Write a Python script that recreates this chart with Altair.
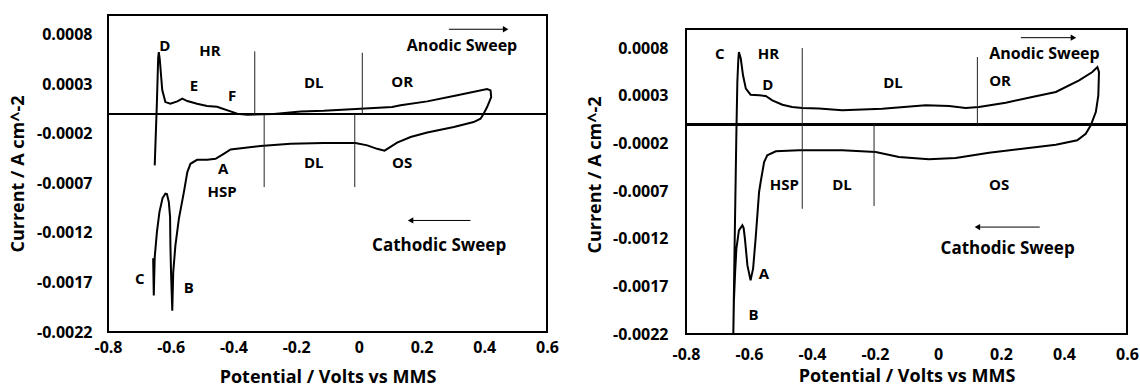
import altair as alt
import pandas as pd

FONT = "Open Sans"

X_TICKS = [-0.8, -0.6, -0.4, -0.2, 0, 0.2, 0.4, 0.6]
Y_TICKS = [-0.0022, -0.0017, -0.0012, -0.0007, -0.0002, 0.0003, 0.0008]
FRAME_V = [-0.8, 0.6]
FRAME_I = [-0.0022, 0.001]

# ---- left voltammogram (potential in V vs MMS, current in A cm^-2) ----
left_v = [-0.651, -0.644, -0.640, -0.638, -0.635, -0.627, -0.617, -0.601, -0.579, -0.563,
          -0.547, -0.516, -0.484, -0.452, -0.441, -0.409, -0.388, -0.356, -0.271, -0.186,
          -0.112, 0.005, 0.106, 0.133, 0.218, 0.314, 0.409, 0.420, 0.422, 0.409,
          0.398, 0.388, 0.366, 0.303, 0.218, 0.165, 0.122, 0.082, 0.058, 0.027,
          -0.011, -0.112, -0.218, -0.314, -0.409, -0.431, -0.457, -0.484, -0.516, -0.537,
          -0.547, -0.558, -0.574, -0.585, -0.592, -0.595, -0.599, -0.601, -0.602, -0.606,
          -0.612, -0.617, -0.626, -0.636, -0.644, -0.651, -0.653, -0.654, -0.656]
left_i = [-0.000518, 0.000121, 0.000566, 0.000626, 0.000556, 0.000242, 0.000121, 0.000104, 0.000128, 0.000155,
          0.000131, 0.000104, 0.000081, 0.000074, 0.000061, 0.000027, 0.000003, -0.000007, 0.0, 0.000025,
          0.000033, 0.000054, 0.000071, 0.000088, 0.000128, 0.000189, 0.000253, 0.000239, 0.000172, 0.000071,
          0.000003, -0.000047, -0.000081, -0.000131, -0.000187, -0.000232, -0.000288, -0.000369, -0.000351, -0.000316,
          -0.000293, -0.000293, -0.000300, -0.000323, -0.000357, -0.000401, -0.000452, -0.000462, -0.000462, -0.000502,
          -0.000586, -0.000788, -0.001058, -0.001326, -0.001596, -0.001985, -0.001596, -0.001323, -0.001040, -0.000889,
          -0.000808, -0.000803, -0.000848, -0.000990, -0.001192, -0.001444, -0.001697, -0.001831, -0.001455]

left_lbl_text = ["D", "HR", "E", "F", "DL", "OR", "Anodic Sweep", "DL", "OS", "A", "HSP",
                 "Cathodic Sweep", "C", "B"]
left_lbl_v = [-0.619, -0.475, -0.526, -0.404, -0.144, 0.138, 0.329, -0.144, 0.138, -0.433, -0.436,
              0.256, -0.699, -0.542]
left_lbl_i = [0.000687, 0.000633, 0.000283, 0.000182, 0.000316, 0.000323, 0.000684, -0.000492, -0.000492,
              -0.000559, -0.000788, -0.001336, -0.001664, -0.001758]

left_div_v = [-0.332, 0.011, -0.302, -0.013]
left_div_top = [0.000633, 0.000619, 0.0, 0.0]
left_div_bot = [0.0, 0.0, -0.000737, -0.000737]

left_arrow_from = [0.287, 0.356]
left_arrow_to = [0.468, 0.165]
left_arrow_i = [0.000856, -0.001074]

# ---- right voltammogram ----
right_v = [-0.650, -0.646, -0.642, -0.640, -0.637, -0.634, -0.632, -0.626, -0.619, -0.610,
           -0.595, -0.568, -0.547, -0.526, -0.494, -0.463, -0.431, -0.378, -0.304, -0.177,
           -0.039, 0.035, 0.088, 0.130, 0.215, 0.299, 0.374, 0.448, 0.490, 0.506,
           0.511, 0.509, 0.501, 0.485, 0.469, 0.442, 0.374, 0.268, 0.162, 0.056,
           -0.029, -0.124, -0.198, -0.304, -0.441, -0.515, -0.542, -0.552, -0.563, -0.568,
           -0.579, -0.587, -0.595, -0.605, -0.613, -0.617, -0.621, -0.632, -0.640, -0.644,
           -0.648, -0.650]
right_i = [-0.00224, -0.001340, -0.000501, -0.000081, 0.000444, 0.000675, 0.000759, 0.000688, 0.000514, 0.000374,
           0.000311, 0.000304, 0.000297, 0.000252, 0.000206, 0.000182, 0.000171, 0.000166, 0.000147, 0.000164,
           0.000199, 0.000192, 0.000171, 0.000182, 0.000227, 0.000286, 0.000339, 0.000462, 0.000549, 0.000601,
           0.000549, 0.000304, 0.000129, -0.000010, -0.000099, -0.000168, -0.000214, -0.000256, -0.000298, -0.000354,
           -0.000367, -0.000343, -0.000291, -0.000273, -0.000273, -0.000283, -0.000325, -0.000396, -0.000605, -0.000710,
           -0.001200, -0.001515, -0.001637, -0.001480, -0.001200, -0.001088, -0.001060, -0.001112, -0.001305, -0.001550,
           -0.001865, -0.00224]

right_lbl_text = ["C", "HR", "D", "DL", "Anodic Sweep", "OR", "HSP", "DL", "OS", "Cathodic Sweep", "A", "B"]
right_lbl_v = [-0.693, -0.538, -0.540, -0.143, 0.338, 0.197, -0.488, -0.305, 0.194, 0.221, -0.553, -0.586]
right_lbl_i = [0.00074, 0.00074, 0.000416, 0.000433, 0.00074, 0.000451, -0.000634, -0.000634, -0.000634,
               -0.001305, -0.001574, -0.002]

right_div_v = [-0.431, -0.203, 0.125]
right_div_top = [0.0008, 0.0, 0.000706]
right_div_bot = [-0.000886, -0.000857, 0.0]

right_arrow_from = [0.263, 0.323]
right_arrow_to = [0.430, 0.125]
right_arrow_i = [0.000909, -0.001078]


def label_size(t):
    if t == "Cathodic Sweep":
        return 17
    if t == "Anodic Sweep":
        return 16
    return 15


def panel(v, i, lbl_t, lbl_v, lbl_i, div_v, div_top, div_bot, a_from, a_to, a_i,
          w, h, y_top, y_lab_pad, y_title_pad, x_lab_pad, x_title_pad):
    # y_top leaves some headroom above the framed region of the plot
    xs = alt.Scale(domain=[-0.8, 0.6], nice=False, zero=False)
    ys = alt.Scale(domain=[-0.0022, y_top], nice=False, zero=False)

    curve = pd.DataFrame({"V": v, "I": i, "k": range(len(v))})
    labels = pd.DataFrame({"V": lbl_v, "I": lbl_i, "t": lbl_t,
                           "fs": [label_size(t) for t in lbl_t]})
    divs = pd.DataFrame({"V": div_v, "I": div_top, "I2": div_bot})
    arrows = pd.DataFrame({"V": a_from, "V2": a_to, "I": a_i,
                           "shape": ["triangle-right" if b > a else "triangle-left"
                                     for a, b in zip(a_from, a_to)],
                           "dx": [-3 if b > a else 3 for a, b in zip(a_from, a_to)]})
    frame = pd.DataFrame({"V": [FRAME_V[0]], "V2": [FRAME_V[1]],
                          "I": [FRAME_I[0]], "I2": [FRAME_I[1]]})

    x_axis = alt.Axis(values=X_TICKS, labelExpr="'' + datum.value", grid=False, ticks=False,
                      domain=False, labelFont=FONT, labelFontSize=16, labelFontWeight="bold",
                      labelColor="black", labelPadding=x_lab_pad, title="Potential / Volts vs MMS",
                      titleFont=FONT, titleFontSize=18, titleFontWeight="bold", titleColor="black",
                      titlePadding=x_title_pad, labelFlush=False)
    y_axis = alt.Axis(values=Y_TICKS, labelExpr="'' + datum.value", grid=False, ticks=False,
                      domain=False, labelFont=FONT, labelFontSize=16, labelFontWeight="bold",
                      labelColor="black", labelPadding=y_lab_pad, title="Current / A cm^-2",
                      titleFont=FONT, titleFontSize=18, titleFontWeight="bold", titleColor="black",
                      titlePadding=y_title_pad, labelFlush=False)

    line = alt.Chart(curve).mark_line(color="black", strokeWidth=2, clip=True).encode(
        x=alt.X("V:Q", scale=xs, axis=x_axis),
        y=alt.Y("I:Q", scale=ys, axis=y_axis),
        order="k:Q",
    )
    box = alt.Chart(frame).mark_rect(fillOpacity=0, stroke="black", strokeWidth=2).encode(
        x=alt.X("V:Q", scale=xs), x2="V2:Q",
        y=alt.Y("I:Q", scale=ys), y2="I2:Q",
    )
    zero = alt.Chart(curve).mark_rule(color="black", strokeWidth=2).encode(
        y=alt.Y(datum=0, scale=ys)
    )
    dividers = alt.Chart(divs).mark_rule(color="#222222", strokeWidth=1).encode(
        x=alt.X("V:Q", scale=xs),
        y=alt.Y("I:Q", scale=ys),
        y2="I2:Q",
    )
    shafts = alt.Chart(arrows).mark_rule(color="black", strokeWidth=1).encode(
        x=alt.X("V:Q", scale=xs),
        x2="V2:Q",
        y=alt.Y("I:Q", scale=ys),
    )
    heads = alt.Chart(arrows).mark_point(filled=True, color="black", opacity=1, size=40).encode(
        x=alt.X("V2:Q", scale=xs),
        y=alt.Y("I:Q", scale=ys),
        shape=alt.Shape("shape:N", scale=None, legend=None),
        xOffset=alt.XOffset("dx:Q", scale=None),
    )
    texts = alt.Chart(labels).mark_text(font=FONT, fontWeight="bold", color="black",
                                         align="center", baseline="middle").encode(
        x=alt.X("V:Q", scale=xs),
        y=alt.Y("I:Q", scale=ys),
        text="t:N",
        size=alt.Size("fs:Q", scale=None, legend=None),
    )
    return alt.layer(line, box, zero, dividers, shafts, heads, texts).properties(width=w, height=h)


left = panel(left_v, left_i, left_lbl_text, left_lbl_v, left_lbl_i,
             left_div_v, left_div_top, left_div_bot,
             left_arrow_from, left_arrow_to, left_arrow_i,
             439, 317, 0.001, 16, 9, 7, 13)

right = panel(right_v, right_i, right_lbl_text, right_lbl_v, right_lbl_i,
              right_div_v, right_div_top, right_div_bot,
              right_arrow_from, right_arrow_to, right_arrow_i,
              441, 319, 0.001147, 18, 8, 12, 5)

chart = alt.hconcat(left, right, spacing=27).properties(
    padding={"left": 9, "top": 13, "right": 0, "bottom": 0},
    background="white",
).configure_view(stroke="transparent")

chart.save("out.html", embed_options={"renderer": "svg", "actions": False})
